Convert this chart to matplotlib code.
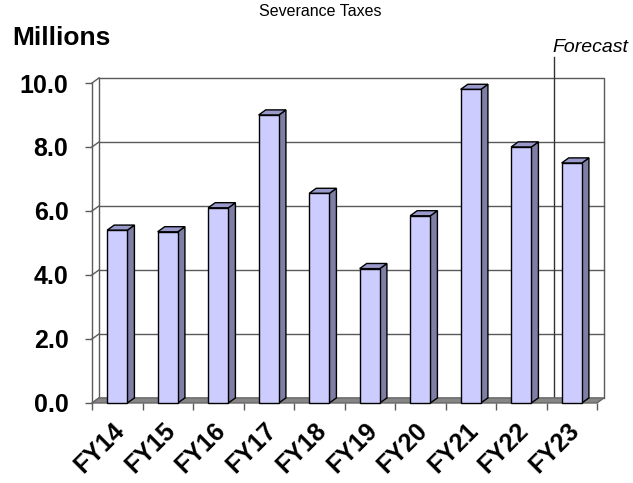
import matplotlib
matplotlib.use('Agg')
import matplotlib.pyplot as plt
import matplotlib.transforms as mtransforms
from matplotlib.patches import Polygon, Rectangle

plt.rcParams['font.family'] = ['Liberation Sans', 'DejaVu Sans']

years = ['FY14', 'FY15', 'FY16', 'FY17', 'FY18', 'FY19', 'FY20', 'FY21', 'FY22', 'FY23']
taxes = [5.4, 5.35, 6.1, 9.0, 6.55, 4.2, 5.85, 9.8, 8.0, 7.5]
yticks = [0, 2, 4, 6, 8, 10]
ytick_labels = ['0.0', '2.0', '4.0', '6.0', '8.0', '10.0']
forecast_from = 8.5  # boundary between FY22 and FY23

# depth of the fake 3d look, in data units
DX = 0.14
DY = 0.16
BAR_W = 0.4

front_col = '#ccccff'
top_col = '#9999cc'
side_col = '#7f7fa6'
wall_col = '#5a5a5a'


def main():
    fig = plt.figure(figsize=(6.33, 4.83), dpi=100)
    ax = fig.add_axes([92 / 633, 80 / 483, 505 / 633, 320 / 483])
    n = len(years)
    x0, x1 = -0.5, n - 0.5
    ax.set_xlim(x0, x1)
    ax.set_ylim(0, 10)
    for s in ax.spines.values():
        s.set_visible(False)

    # back wall with gridlines
    ax.plot([x0 + DX, x1 + DX, x1 + DX], [10 + DY, 10 + DY, DY], color=wall_col, lw=1, clip_on=False, zorder=1)
    ax.plot([x0 + DX, x0 + DX], [DY, 10 + DY], color=wall_col, lw=1, clip_on=False, zorder=1)
    for v in yticks[1:-1]:
        ax.plot([x0 + DX, x1 + DX], [v + DY, v + DY], color=wall_col, lw=1, clip_on=False, zorder=1)
    # left side wall
    ax.plot([x0, x0], [0, 10], color=wall_col, lw=1, clip_on=False, zorder=1)
    for v in yticks:
        ax.plot([x0, x0 + DX], [v, v + DY], color=wall_col, lw=1, clip_on=False, zorder=1)

    # forecast divider
    ax.plot([forecast_from + DX, forecast_from + DX], [DY, 10.8], color='#333333', lw=1, clip_on=False, zorder=1)

    # floor
    floor = Polygon([[x0, 0], [x1, 0], [x1 + DX, DY], [x0 + DX, DY]], closed=True,
                    facecolor='#868686', edgecolor='#666666', lw=1, clip_on=False, zorder=2)
    ax.add_patch(floor)

    # bars: front, side, top
    for i, v in enumerate(taxes):
        l, r = i - BAR_W / 2, i + BAR_W / 2
        ax.add_patch(Polygon([[r, 0], [r + DX, DY], [r + DX, v + DY], [r, v]], closed=True,
                             facecolor=side_col, edgecolor='black', lw=1, clip_on=False, zorder=3))
        ax.add_patch(Polygon([[l, v], [r, v], [r + DX, v + DY], [l + DX, v + DY]], closed=True,
                             facecolor=top_col, edgecolor='black', lw=1, clip_on=False, zorder=3))
        ax.add_patch(Rectangle((l, 0), BAR_W, v, facecolor=front_col, edgecolor='black',
                               lw=1, clip_on=False, zorder=4))

    # y axis ticks
    ax.set_yticks(yticks)
    ax.set_yticklabels(ytick_labels, fontsize=18, fontweight='bold')
    ax.tick_params(axis='y', length=5, width=1, color=wall_col, pad=12)

    # x axis: tick marks at boundaries, labels at centres
    ax.set_xticks([i - 0.5 for i in range(n + 1)], minor=True)
    ax.set_xticks(range(n))
    ax.set_xticklabels(years, fontsize=18, fontweight='bold', rotation=45, ha='right', va='top')
    ax.tick_params(axis='x', which='major', length=0, pad=11)
    ax.tick_params(axis='x', which='minor', length=5, width=1, color=wall_col, pad=0)
    shift = mtransforms.ScaledTranslation(12 / 100, 0, fig.dpi_scale_trans)
    for lab in ax.get_xticklabels():
        lab.set_transform(lab.get_transform() + shift)

    fig.text(320 / 633, 1 - 12 / 483, 'Severance Taxes', ha='center', va='center', fontsize=11.5)
    fig.text(12 / 633, 1 - 45 / 483, 'Millions', ha='left', va='baseline', fontsize=19, fontweight='bold')
    fig.text(552 / 633, 1 - 52 / 483, 'Forecast', ha='left', va='baseline', fontsize=14, style='italic')

    fig.savefig('out.png', dpi=100)


if __name__ == "__main__":
    main()
